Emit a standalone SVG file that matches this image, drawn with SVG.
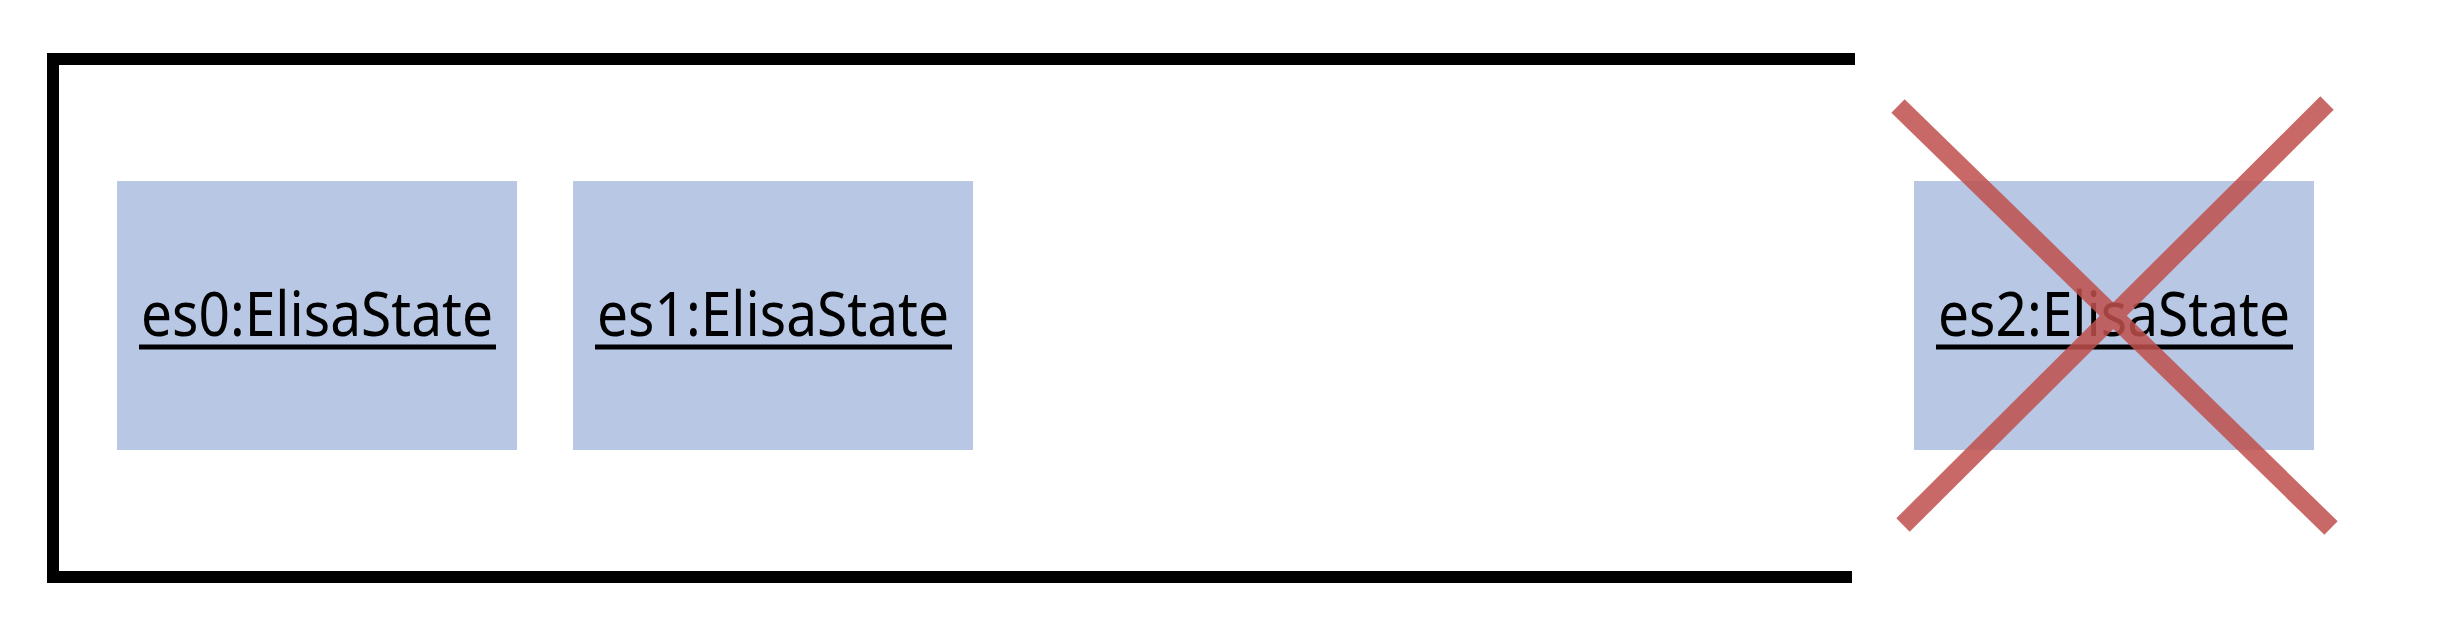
<svg xmlns="http://www.w3.org/2000/svg" width="2450" height="630" viewBox="0 0 2450 630">
<style>
.box{fill:#b8c7e4}
.lbl{font-family:"Noto Sans","Liberation Sans",sans-serif;font-size:62px;fill:#000;text-anchor:middle}
.ul{stroke:#000;stroke-width:5}
.frame{stroke:#000;stroke-width:12;fill:none}
.cross{stroke:#c0504d;stroke-width:19}
</style>
<rect width="2450" height="630" fill="#fff"/>
<g id="connectors">
<path class="frame" d="M1855 59 H53 V577 H1852"/>
</g>
<g id="es0">
<rect class="box" x="117" y="181" width="400" height="269"/>
<text class="lbl" x="317" y="336" textLength="352" lengthAdjust="spacingAndGlyphs">es0:ElisaState</text>
<line class="ul" x1="139" y1="347" x2="496" y2="347"/>
</g>
<g id="es1">
<rect class="box" x="573" y="181" width="400" height="269"/>
<text class="lbl" x="773" y="336" textLength="352" lengthAdjust="spacingAndGlyphs">es1:ElisaState</text>
<line class="ul" x1="595" y1="347" x2="952" y2="347"/>
</g>
<g id="es2">
<rect class="box" x="1914" y="181" width="400" height="269"/>
<text class="lbl" x="2114" y="336" textLength="352" lengthAdjust="spacingAndGlyphs">es2:ElisaState</text>
<line class="ul" x1="1936" y1="347" x2="2293" y2="347"/>
</g>
<g id="cross" opacity="0.85">
<line class="cross" x1="1898" y1="106" x2="2331" y2="528"/>
<line class="cross" x1="1903" y1="525" x2="2327" y2="103"/>
</g>
</svg>
